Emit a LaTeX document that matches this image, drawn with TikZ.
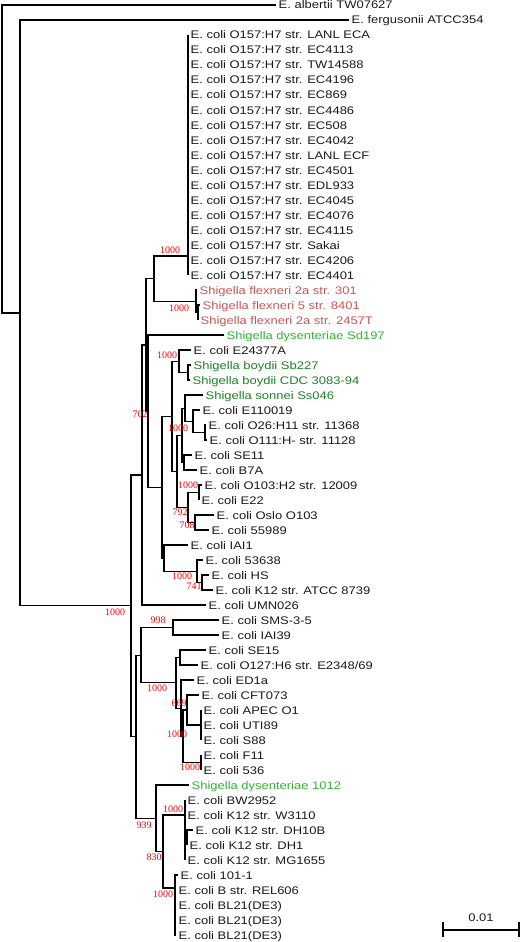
\documentclass[tikz,border=0pt]{standalone}
\usepackage{fontspec}
\newfontfamily\lfont[FakeStretch=1.18]{Liberation Sans}
\newfontfamily\bsfont{Liberation Serif}
\definecolor{flx}{RGB}{205,85,85}
\definecolor{lgr}{RGB}{50,180,50}
\definecolor{dgr}{RGB}{30,130,40}
\definecolor{txt}{RGB}{25,25,25}
\begin{document}
\begin{tikzpicture}[x=1pt,y=-1pt,
  leaf/.style={anchor=west,inner xsep=2.5pt,inner ysep=0pt,text height=8pt,text depth=0pt,font=\lfont\fontsize{11}{13}\selectfont,text=txt},
  boot/.style={inner sep=0pt,font=\bsfont\fontsize{10}{12}\selectfont,text=red},
  br/.style={line width=1.2pt,line join=miter,draw=black}]
\useasboundingbox (0,0) rectangle (521,942);
% leaves
\node[leaf] (l1) at (276,5) {E. albertii TW07627};
\node[leaf] (l2) at (349,20) {E. fergusonii ATCC354};
\node[leaf] (l3) at (188,35) {E. coli O157:H7 str. LANL ECA};
\node[leaf] (l4) at (188,50) {E. coli O157:H7 str. EC4113};
\node[leaf] (l5) at (188,65) {E. coli O157:H7 str. TW14588};
\node[leaf] (l6) at (188,80) {E. coli O157:H7 str. EC4196};
\node[leaf] (l7) at (188,95) {E. coli O157:H7 str. EC869};
\node[leaf] (l8) at (188,110) {E. coli O157:H7 str. EC4486};
\node[leaf] (l9) at (188,125) {E. coli O157:H7 str. EC508};
\node[leaf] (l10) at (188,140) {E. coli O157:H7 str. EC4042};
\node[leaf] (l11) at (188,155) {E. coli O157:H7 str. LANL ECF};
\node[leaf] (l12) at (188,170) {E. coli O157:H7 str. EC4501};
\node[leaf] (l13) at (188,185) {E. coli O157:H7 str. EDL933};
\node[leaf] (l14) at (188,200) {E. coli O157:H7 str. EC4045};
\node[leaf] (l15) at (188,215) {E. coli O157:H7 str. EC4076};
\node[leaf] (l16) at (188,230) {E. coli O157:H7 str. EC4115};
\node[leaf] (l17) at (188,245) {E. coli O157:H7 str. Sakai};
\node[leaf] (l18) at (188,260) {E. coli O157:H7 str. EC4206};
\node[leaf] (l19) at (188,275) {E. coli O157:H7 str. EC4401};
\node[leaf,text=flx] (l20) at (197,290) {Shigella flexneri 2a str. 301};
\node[leaf,text=flx] (l21) at (200,305) {Shigella flexneri 5 str. 8401};
\node[leaf,text=flx] (l22) at (198,320) {Shigella flexneri 2a str. 2457T};
\node[leaf,text=lgr] (l23) at (224,335) {Shigella dysenteriae Sd197};
\node[leaf] (l24) at (191,350) {E. coli E24377A};
\node[leaf,text=dgr] (l25) at (191,365) {Shigella boydii Sb227};
\node[leaf,text=dgr] (l26) at (190,380) {Shigella boydii CDC 3083-94};
\node[leaf,text=dgr] (l27) at (203,395) {Shigella sonnei Ss046};
\node[leaf] (l28) at (200,410) {E. coli E110019};
\node[leaf] (l29) at (206,425) {E. coli O26:H11 str. 11368};
\node[leaf] (l30) at (207,440) {E. coli O111:H- str. 11128};
\node[leaf] (l31) at (192,455) {E. coli SE11};
\node[leaf] (l32) at (197,470) {E. coli B7A};
\node[leaf] (l33) at (202,485) {E. coli O103:H2 str. 12009};
\node[leaf] (l34) at (199,500) {E. coli E22};
\node[leaf] (l35) at (214,515) {E. coli Oslo O103};
\node[leaf] (l36) at (209,530) {E. coli 55989};
\node[leaf] (l37) at (188,545) {E. coli IAI1};
\node[leaf] (l38) at (203,560) {E. coli 53638};
\node[leaf] (l39) at (209,575) {E. coli HS};
\node[leaf] (l40) at (213,590) {E. coli K12 str. ATCC 8739};
\node[leaf] (l41) at (206,605) {E. coli UMN026};
\node[leaf] (l42) at (219,620) {E. coli SMS-3-5};
\node[leaf] (l43) at (219,635) {E. coli IAI39};
\node[leaf] (l44) at (206,650) {E. coli SE15};
\node[leaf] (l45) at (198,665) {E. coli O127:H6 str. E2348/69};
\node[leaf] (l46) at (194,680) {E. coli ED1a};
\node[leaf] (l47) at (199,695) {E. coli CFT073};
\node[leaf] (l48) at (201,710) {E. coli APEC O1};
\node[leaf] (l49) at (201,725) {E. coli UTI89};
\node[leaf] (l50) at (201,740) {E. coli S88};
\node[leaf] (l51) at (201,755) {E. coli F11};
\node[leaf] (l52) at (201,770) {E. coli 536};
\node[leaf,text=lgr] (l53) at (189,785) {Shigella dysenteriae 1012};
\node[leaf] (l54) at (185,800) {E. coli BW2952};
\node[leaf] (l55) at (185,815) {E. coli K12 str. W3110};
\node[leaf] (l56) at (193,830) {E. coli K12 str. DH10B};
\node[leaf] (l57) at (187,845) {E. coli K12 str. DH1};
\node[leaf] (l58) at (185,860) {E. coli K12 str. MG1655};
\node[leaf] (l59) at (178,875) {E. coli 101-1};
\node[leaf] (l60) at (176,890) {E. coli B str. REL606};
\node[leaf] (l61) at (176,905) {E. coli BL21(DE3)};
\node[leaf] (l62) at (176,920) {E. coli BL21(DE3)};
\node[leaf] (l63) at (176,935) {E. coli BL21(DE3)};
% internal nodes
\coordinate (R) at (2,159);
\coordinate (N1) at (20,312.9);
\coordinate (N2) at (131,605.8);
\coordinate (N3) at (142,474.9);
\coordinate (N3a) at (146,344.9);
\coordinate (A) at (154,278.6);
\coordinate (OC) at (188,256);
\coordinate (F1) at (196,301.25);
\coordinate (F2) at (198,312.5);
\coordinate (N3b) at (148,411.1);
\coordinate (N3c) at (162,487.2);
\coordinate (B1) at (172,416.3);
\coordinate (BA) at (179,361.25);
\coordinate (BOY) at (188,372.5);
\coordinate (X) at (177,471.4);
\coordinate (X1) at (182,435.3);
\coordinate (SSn) at (185,408.1);
\coordinate (E11n) at (193,421.25);
\coordinate (O26n) at (205,432.5);
\coordinate (SEB) at (184,462.5);
\coordinate (Y) at (188,507.5);
\coordinate (OE) at (199,492.5);
\coordinate (OS) at (195,522.5);
\coordinate (Z) at (164,558.1);
\coordinate (W) at (197,571.25);
\coordinate (HK) at (202,582.5);
\coordinate (N4) at (136,736.7);
\coordinate (N5) at (141,655.2);
\coordinate (N7) at (173,627.5);
\coordinate (N8) at (176,682.8);
\coordinate (SEO) at (180,657.5);
\coordinate (EDG) at (181,708.1);
\coordinate (EDG2) at (183,736.25);
\coordinate (CFG) at (187,710);
\coordinate (APG) at (201,725);
\coordinate (FG) at (201,762.5);
\coordinate (N6) at (156,818.25);
\coordinate (N9) at (163,851.5);
\coordinate (K12) at (185,815);
\coordinate (DHs) at (187,837.5);
\coordinate (BL) at (175,888);
% branches
\draw[br] (R) |- (l1.west);
\draw[br] (R) |- (N1);
\draw[br] (N1) |- (l2.west);
\draw[br] (N1) |- (N2);
\draw[br] (N2) |- (N3);
\draw[br] (N2) |- (N4);
\draw[br] (N3) |- (N3a);
\draw[br] (N3) |- (l41.west);
\draw[br] (N3a) |- (A);
\draw[br] (N3a) |- (N3b);
\draw[br] (A) |- (OC);
\draw[br] (A) |- (F1);
\foreach \i in {3,...,19} {\draw[br] (OC) |- (l\i.west);}
\draw[br] (F1) |- (l20.west);
\draw[br] (F1) |- (F2);
\draw[br] (F2) |- (l21.west);
\draw[br] (F2) |- (l22.west);
\draw[br] (N3b) |- (l23.west);
\draw[br] (N3b) |- (N3c);
\draw[br] (N3c) |- (B1);
\draw[br] (N3c) |- (Z);
\draw[br] (B1) |- (BA);
\draw[br] (B1) |- (X);
\draw[br] (BA) |- (l24.west);
\draw[br] (BA) |- (BOY);
\draw[br] (BOY) |- (l25.west);
\draw[br] (BOY) |- (l26.west);
\draw[br] (X) |- (X1);
\draw[br] (X) |- (Y);
\draw[br] (X1) |- (SSn);
\draw[br] (X1) |- (SEB);
\draw[br] (SSn) |- (l27.west);
\draw[br] (SSn) |- (E11n);
\draw[br] (E11n) |- (l28.west);
\draw[br] (E11n) |- (O26n);
\draw[br] (O26n) |- (l29.west);
\draw[br] (O26n) |- (l30.west);
\draw[br] (SEB) |- (l31.west);
\draw[br] (SEB) |- (l32.west);
\draw[br] (Y) |- (OE);
\draw[br] (Y) |- (OS);
\draw[br] (OE) |- (l33.west);
\draw[br] (OE) |- (l34.west);
\draw[br] (OS) |- (l35.west);
\draw[br] (OS) |- (l36.west);
\draw[br] (Z) |- (l37.west);
\draw[br] (Z) |- (W);
\draw[br] (W) |- (l38.west);
\draw[br] (W) |- (HK);
\draw[br] (HK) |- (l39.west);
\draw[br] (HK) |- (l40.west);
\draw[br] (N4) |- (N5);
\draw[br] (N4) |- (N6);
\draw[br] (N5) |- (N7);
\draw[br] (N5) |- (N8);
\draw[br] (N7) |- (l42.west);
\draw[br] (N7) |- (l43.west);
\draw[br] (N8) |- (SEO);
\draw[br] (N8) |- (EDG);
\draw[br] (SEO) |- (l44.west);
\draw[br] (SEO) |- (l45.west);
\draw[br] (EDG) |- (l46.west);
\draw[br] (EDG) |- (EDG2);
\draw[br] (EDG2) |- (CFG);
\draw[br] (EDG2) |- (FG);
\draw[br] (CFG) |- (l47.west);
\draw[br] (CFG) |- (APG);
\foreach \i in {48,49,50} {\draw[br] (APG) |- (l\i.west);}
\draw[br] (FG) |- (l51.west);
\draw[br] (FG) |- (l52.west);
\draw[br] (N6) |- (l53.west);
\draw[br] (N6) |- (N9);
\draw[br] (N9) |- (K12);
\draw[br] (N9) |- (BL);
\draw[br] (K12) |- (l54.west);
\draw[br] (K12) |- (l55.west);
\draw[br] (K12) |- (l58.west);
\draw[br] (K12) |- (DHs);
\draw[br] (DHs) |- (l56.west);
\draw[br] (DHs) |- (l57.west);
\foreach \i in {59,...,63} {\draw[br] (BL) |- (l\i.west);}
% bootstrap values
\node[boot] (b1) at (170,250) {1000};
\node[boot] (b2) at (179,308) {1000};
\node[boot] (b3) at (167,355) {1000};
\node[boot] (b4) at (140,414) {702};
\node[boot] (b5) at (178,428) {1000};
\node[boot] (b6) at (188,485) {1000};
\node[boot] (b7) at (180,512) {792};
\node[boot] (b8) at (187,525) {708};
\node[boot] (b9) at (182,576) {1000};
\node[boot] (b10) at (194,586) {741};
\node[boot] (b11) at (115,612) {1000};
\node[boot] (b12) at (158,620) {998};
\node[boot] (b13) at (157,688) {1000};
\node[boot] (b14) at (179,703) {669};
\node[boot] (b15) at (177,734) {1000};
\node[boot] (b16) at (190,767) {1000};
\node[boot] (b17) at (173,809) {1000};
\node[boot] (b18) at (144,825) {939};
\node[boot] (b19) at (154,857) {830};
\node[boot] (b20) at (163,894) {1000};
% scale bar
\coordinate (s1) at (443,930);
\coordinate (s2) at (519,930);
\coordinate (s1t) at (443,922);
\coordinate (s1b) at (443,937);
\coordinate (s2t) at (519,922);
\coordinate (s2b) at (519,937);
\draw[br] (s1) -- (s2);
\draw[br] (s1t) -- (s1b);
\draw[br] (s2t) -- (s2b);
\node[leaf,anchor=center] (sbl) at (481,917) {0.01};
\end{tikzpicture}
\end{document}
